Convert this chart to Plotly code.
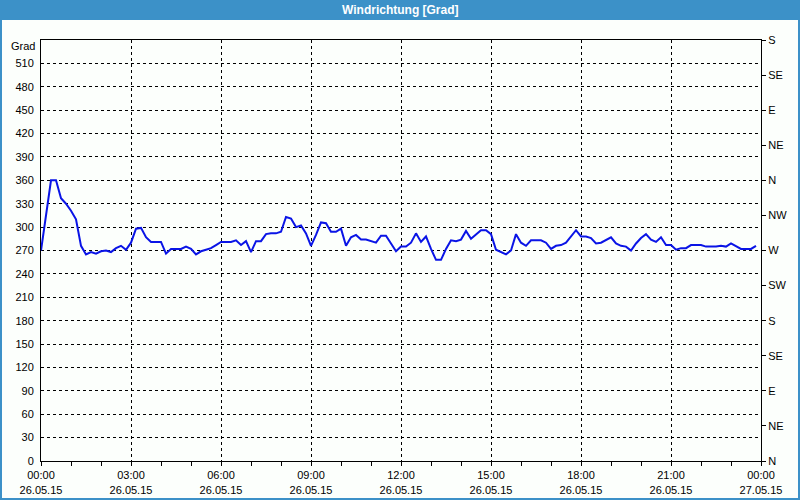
import plotly.graph_objects as go
import pandas as pd

# 10-minute wind direction readings, 26.05.15 00:00 - 23:50
start = "2015-05-26 00:00"
direction = [
    270, 312, 360, 360, 337, 330, 321, 310, 276, 265,
    268, 266, 269, 270, 268, 273, 276, 271, 280, 298,
    299, 287, 281, 281, 281, 266, 272, 272, 272, 275,
    272, 265, 269, 271, 273, 277, 281, 281, 281, 283,
    277, 282, 268, 282, 282, 291, 292, 292, 294, 313,
    311, 300, 302, 292, 276, 290, 306, 305, 294, 294,
    298, 276, 287, 290, 284, 284, 282, 280, 289, 289,
    279, 269, 275, 275, 280, 292, 281, 288, 272, 258,
    258, 272, 283, 282, 284, 295, 285, 291, 296, 296,
    291, 271, 268, 265, 270, 291, 280, 276, 283, 283,
    283, 280, 272, 276, 277, 280, 288, 296, 288, 288,
    286, 279, 280, 284, 287, 279, 276, 275, 270, 279,
    286, 291, 284, 281, 287, 277, 277, 271, 273, 273,
    277, 277, 277, 275, 275, 275, 276, 275, 279, 276,
    272, 272, 272, 276,
]
times = pd.date_range(start, periods=len(direction), freq="10min")

x_tick_vals = pd.date_range("2015-05-26 00:00", "2015-05-27 00:00", freq="3h")
x_tick_text = [
    "00:00<br>26.05.15", "03:00<br>26.05.15", "06:00<br>26.05.15",
    "09:00<br>26.05.15", "12:00<br>26.05.15", "15:00<br>26.05.15",
    "18:00<br>26.05.15", "21:00<br>26.05.15", "00:00<br>27.05.15",
]
left_ticks = list(range(0, 540, 30))
right_ticks = list(range(0, 541, 45))
right_text = ["N", "NE", "E", "SE", "S", "SW", "W", "NW", "N", "NE", "E", "SE", "S"]

BG = "#fcfffc"
BLUE_BAR = "#3c91c8"
FONT = "Liberation Sans"

fig = go.Figure()
fig.add_trace(go.Scatter(
    x=times, y=direction, mode="lines",
    line=dict(color="#0a14e6", width=2), showlegend=False, hoverinfo="skip",
))
# invisible trace to activate the secondary axis
fig.add_trace(go.Scatter(
    x=[times[0]], y=[0], yaxis="y2", mode="markers",
    marker=dict(opacity=0), showlegend=False, hoverinfo="skip",
))

PW, PH = 720, 421
def px(X):
    return (X - 41) / PW
def py(Y):
    return (461 - Y) / PH

fig.update_layout(
    width=800, height=500,
    margin=dict(l=41, r=39, t=40, b=39, autoexpand=False),
    paper_bgcolor=BG, plot_bgcolor=BG,
    font=dict(family=FONT, size=11, color="black"),
    xaxis=dict(
        type="date", automargin=False,
        range=["2015-05-26 00:00", "2015-05-27 00:00"],
        tickvals=x_tick_vals, ticktext=x_tick_text,
        ticks="outside", ticklen=4, tickcolor="black",
        minor=dict(dtick=3600000, ticks="outside", ticklen=4, tickcolor="black", showgrid=False),
        showgrid=True, gridcolor="black", gridwidth=1, griddash="3px,3px",
        showline=True, linecolor="black", linewidth=1, mirror=True,
        zeroline=False, tickfont=dict(size=11),
    ),
    yaxis=dict(
        range=[0, 540], tickvals=left_ticks, automargin=False,
        ticks="", showgrid=True, gridcolor="black", gridwidth=1, griddash="3px,3px",
        showline=True, linecolor="black", linewidth=1,
        zeroline=False, tickfont=dict(size=11), ticklabelstandoff=4,
    ),
    yaxis2=dict(
        range=[0, 540], overlaying="y", side="right", automargin=False,
        tickvals=right_ticks, ticktext=right_text,
        ticks="outside", ticklen=4, tickcolor="black",
        showgrid=False, showline=True, linecolor="black", linewidth=1,
        zeroline=False, tickfont=dict(size=11),
    ),
    shapes=[
        dict(type="rect", xref="paper", yref="paper",
             x0=px(0), x1=px(800), y0=py(20), y1=py(0),
             fillcolor=BLUE_BAR, line=dict(width=0), layer="above"),
        dict(type="rect", xref="paper", yref="paper",
             x0=px(1), x1=px(799), y0=py(499), y1=py(1),
             fillcolor="rgba(0,0,0,0)", line=dict(color=BLUE_BAR, width=2)),
    ],
    annotations=[
        dict(text="<b>Windrichtung [Grad]</b>", xref="paper", yref="paper",
             x=px(400), y=py(10), showarrow=False, xanchor="center", yanchor="middle",
             font=dict(family=FONT, size=12, color="white")),
        dict(text="Grad", xref="paper", yref="paper",
             x=px(37), y=py(46), showarrow=False, xanchor="right", yanchor="middle",
             font=dict(family=FONT, size=11, color="black")),
    ],
)

fig.write_html(
    "out.html",
    config={"displayModeBar": False},
    post_script="document.body.style.margin='0';document.body.style.padding='0';",
)
